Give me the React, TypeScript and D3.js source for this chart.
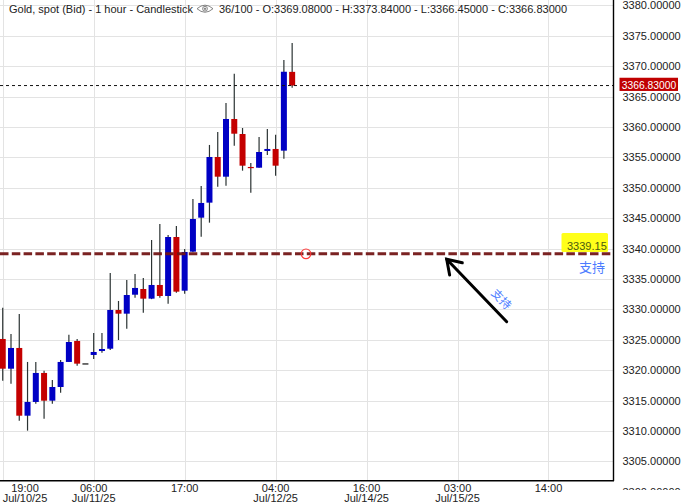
import React from 'react';
import * as d3 from 'd3';

// hourly candles, Jul/10/25 19:00 onwards
const opens = [3325.15, 3320.26, 3323.67, 3312.53, 3314.79, 3319.56, 3315.0, 3317.25, 3321.37, 3324.82, 3321.04, 3322.52,
  3323.17, 3323.55, 3329.92, 3329.31, 3332.43, 3333.37, 3331.78, 3334.03, 3332.22, 3341.92, 3333.09, 3339.51,
  3345.1, 3347.57, 3355.08, 3351.84, 3361.33, 3358.86, 3353.44, 3353.32, 3356.07, 3356.4, 3356.12, 3369.08];
const highs = [3330.3, 3325.97, 3329.26, 3321.37, 3321.37, 3319.93, 3318.4, 3321.7, 3325.86, 3325.15, 3321.04, 3326.14,
  3326.14, 3336.0, 3331.4, 3334.85, 3335.84, 3335.18, 3341.43, 3344.06, 3342.25, 3343.73, 3339.95, 3348.17,
  3350.31, 3357.06, 3359.19, 3363.96, 3368.78, 3359.85, 3354.1, 3358.37, 3359.69, 3358.75, 3371.04, 3373.84];
const lows = [3318.29, 3317.8, 3311.71, 3310.07, 3314.51, 3312.04, 3314.51, 3316.32, 3321.37, 3320.76, 3321.04, 3321.86,
  3322.9, 3323.34, 3324.98, 3326.84, 3331.94, 3329.47, 3331.7, 3331.94, 3330.95, 3332.76, 3332.6, 3339.4,
  3341.97, 3344.28, 3350.2, 3350.36, 3356.94, 3352.83, 3349.21, 3353.32, 3355.41, 3352.0, 3354.8, 3366.45];
const closes = [3320.26, 3323.67, 3312.53, 3314.79, 3319.56, 3315.0, 3317.25, 3321.37, 3324.65, 3321.09, 3321.04, 3323.01,
  3323.5, 3329.92, 3329.31, 3332.38, 3333.54, 3331.78, 3334.03, 3332.22, 3341.92, 3332.93, 3339.46, 3344.88,
  3347.52, 3355.08, 3351.84, 3361.33, 3358.91, 3353.65, 3353.3, 3355.9, 3356.4, 3353.65, 3369.1, 3366.83];

const xTickIndex = [0, 11, 22, 33, 44, 55, 66];
const xTickTime = ['19:00', '06:00', '17:00', '04:00', '16:00', '03:00', '14:00'];
const xTickDate = ['Jul/10/25', 'Jul/11/25', '', 'Jul/12/25', 'Jul/14/25', 'Jul/15/25', ''];

const yTicks = [3300, 3305, 3310, 3315, 3320, 3325, 3330, 3335, 3340, 3345, 3350, 3355, 3360, 3365, 3370, 3375, 3380];

const lastPrice = 3366.83;
const supportLevel = 3339.15;
const supportLabel = '支持';
const headerLeft = 'Gold, spot (Bid) - 1 hour - Candlestick';
const headerRight = '36/100 - O:3369.08000 - H:3373.84000 - L:3366.45000 - C:3366.83000';

const W = 685;
const H = 504;
const plotRight = 613;
const plotBottom = 481;
const FONT = 'Arial, "Liberation Sans", sans-serif';

const x = d3.scaleLinear().domain([-0.33, 73.8]).range([0, plotRight]);
const y = d3.scaleLinear().domain([3301.79, 3380.9]).range([plotBottom, 0]);

const BLUE = '#0000c4';
const RED = '#c40000';

export default function App() {
  const bodyW = 6;
  const fmt = d3.format('.5f');

  // arrow pointing at the support line
  const tip = { x: 446.7, y: y(supportLevel) + 5.4 };
  const tail = { x: 506.7, y: 321.7 };
  const ang = Math.atan2(tail.y - tip.y, tail.x - tip.x);
  const barb = 16;
  const spread = 0.58;
  const b1 = { x: tip.x + barb * Math.cos(ang - spread), y: tip.y + barb * Math.sin(ang - spread) };
  const b2 = { x: tip.x + barb * Math.cos(ang + spread), y: tip.y + barb * Math.sin(ang + spread) };

  return (
    <svg width={W} height={H} style={{ position: 'absolute', left: 0, top: 0, background: '#fff' }}
      fontFamily={FONT}>
      <defs>
        <clipPath id="plot-clip">
          <rect x={0} y={0} width={plotRight} height={plotBottom} />
        </clipPath>
        <clipPath id="yaxis-clip">
          <rect x={plotRight} y={0} width={W - plotRight} height={490} />
        </clipPath>
      </defs>

      {/* grid */}
      <g clipPath="url(#plot-clip)">
        {yTicks.map(v => (
          <line key={v} x1={0} x2={plotRight} y1={Math.round(y(v)) + 0.5} y2={Math.round(y(v)) + 0.5}
            stroke="#e3e3e3" strokeWidth={1} />
        ))}
        {xTickIndex.map(i => (
          <line key={i} x1={Math.round(x(i)) + 0.5} x2={Math.round(x(i)) + 0.5} y1={0} y2={plotBottom}
            stroke="#e3e3e3" strokeWidth={1} />
        ))}
      </g>

      {/* candles */}
      <g clipPath="url(#plot-clip)">
        {opens.map((o, i) => {
          const c = closes[i];
          const cx = x(i);
          const top = y(Math.max(o, c));
          const bot = y(Math.min(o, c));
          const flat = o === c;
          const color = flat ? '#111' : c > o ? BLUE : RED;
          return (
            <g key={i}>
              {highs[i] !== lows[i] && (
                <line x1={cx} x2={cx} y1={y(highs[i])} y2={y(lows[i])} stroke="#2b3333" strokeWidth={1.2} />
              )}
              <rect x={cx - bodyW / 2} y={flat ? top - 0.6 : top} width={bodyW}
                height={Math.max(1.2, bot - top)} fill={color} />
            </g>
          );
        })}

        {/* last price dotted line */}
        <line x1={0} x2={plotRight} y1={y(lastPrice)} y2={y(lastPrice)} stroke="#111" strokeWidth={1}
          strokeDasharray="3,3" />

        {/* support dashed line */}
        <line x1={0} x2={plotRight} y1={y(supportLevel)} y2={y(supportLevel)} stroke="#731717"
          strokeWidth={3} strokeDasharray="8.5,3.3" opacity={0.95} />
        <circle cx={306} cy={y(supportLevel)} r={4.8} fill="none" stroke="#ff3c3c" strokeWidth={1.1} />

        {/* arrow */}
        <line x1={tail.x} y1={tail.y} x2={tip.x} y2={tip.y} stroke="#000" strokeWidth={3} strokeLinecap="round" />
        <polyline points={`${b1.x},${b1.y} ${tip.x},${tip.y} ${b2.x},${b2.y}`} fill="none" stroke="#000"
          strokeWidth={3} strokeLinecap="round" strokeLinejoin="miter" />
        <text transform={`translate(502,298.5) rotate(${(ang * 180) / Math.PI})`} textAnchor="middle"
          dominantBaseline="central" fontSize={11.5} fill="#4d7cff"
          fontFamily={'"Noto Sans CJK SC", sans-serif'}>{supportLabel}</text>

        {/* support label */}
        <rect x={561.5} y={233} width={46.5} height={19} fill="#ffff1a" rx={1.5} />
        <text x={567} y={250.3} fontSize={11} fill="#4a5a10">{supportLevel.toFixed(2)}</text>
        <text x={592} y={272} textAnchor="middle" fontSize={13} fill="#4d7cff"
          fontFamily={'"Noto Sans CJK SC", sans-serif'}>{supportLabel}</text>
      </g>

      {/* axes */}
      <line x1={plotRight + 0.5} x2={plotRight + 0.5} y1={0} y2={plotBottom} stroke="#000" strokeWidth={1.4} />
      <line x1={0} x2={plotRight + 1} y1={plotBottom - 0.3} y2={plotBottom - 0.3} stroke="#000" strokeWidth={1.4} />

      <g clipPath="url(#yaxis-clip)">
        {yTicks.map(v => (
          <text key={v} x={622.5} y={y(v) + 4} fontSize={11} fill="#222">{fmt(v)}</text>
        ))}
      </g>

      {/* last price tag */}
      <rect x={619.5} y={y(lastPrice) - 7.8} width={58.5} height={13.2} fill="#c00000" />
      <text x={649} y={y(lastPrice) + 3.5} textAnchor="middle" fontSize={10.3} fill="#fff">{fmt(lastPrice)}</text>

      {/* x labels */}
      {xTickIndex.map((idx, k) => {
        const half = 22.5;
        const cx = Math.max(x(idx), half + 2.5);
        return (
          <g key={idx}>
            <text x={cx} y={491.5} textAnchor="middle" fontSize={11} fill="#222">{xTickTime[k]}</text>
            {xTickDate[k] && (
              <text x={cx} y={502} textAnchor="middle" fontSize={11} fill="#222">{xTickDate[k]}</text>
            )}
          </g>
        );
      })}

      {/* header */}
      <text x={9} y={13.3} fontSize={11} fill="#222">{headerLeft}</text>
      <g stroke="#777" fill="none" strokeWidth={0.9}>
        <path d="M197,8.7 Q205,1.6 213,8.7 Q205,15.8 197,8.7 Z" />
        <circle cx={205} cy={8.7} r={2.4} />
        <circle cx={205} cy={8.7} r={0.8} fill="#777" />
      </g>
      <text x={219} y={13.3} fontSize={11} fill="#222">{headerRight}</text>
    </svg>
  );
}
